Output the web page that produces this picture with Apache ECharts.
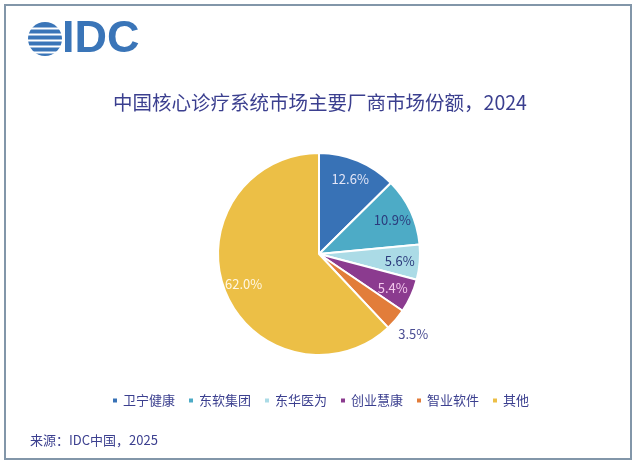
<!DOCTYPE html>
<html>
<head>
<meta charset="utf-8">
<script src="https://cdn.jsdelivr.net/npm/echarts@6/dist/echarts.min.js"></script>
<style>
html, body { margin: 0; padding: 0; background: #fff; }
#main { width: 640px; height: 465px; }
</style>
</head>
<body>
<div id="main"></div>
<script>
// vendor shares, China core diagnosis & treatment systems, 2024
var vendors = ['卫宁健康', '东软集团', '东华医为', '创业慧康', '智业软件', '其他'];
var shares = [12.6, 10.9, 5.6, 5.4, 3.5, 62.0];
// the small slice gets its label outside the pie
var outsideLabel = '智业软件';

var sliceColors = ['#3872b6', '#4dabc6', '#abdbe6', '#8b3b8f', '#e27d3a', '#ecbf46'];
var labelColors = ['#e3e6f7', '#2b3a7c', '#2b3a7c', '#f3c8ec', '#4a4d93', '#fff7e4'];
var navy = '#3b3f8f';

var pieData = [], innerLabels = [], outerLabels = [];
for (var i = 0; i < vendors.length; i++) {
  var isOut = vendors[i] == outsideLabel;
  pieData.push({ name: vendors[i], value: shares[i], itemStyle: { color: sliceColors[i] } });
  innerLabels.push({ name: vendors[i], value: shares[i],
    label: { show: !isOut, color: labelColors[i] } });
  outerLabels.push({ name: vendors[i], value: shares[i],
    label: { show: isOut, color: labelColors[i] } });
}

var pct = function (p) { return p.value.toFixed(1) + '%'; };
var labelFont = { fontSize: 13, fontFamily: '"Noto Sans CJK SC", sans-serif' };

var myChart = echarts.init(document.getElementById('main'));

var option = {
  backgroundColor: '#fff',
  animation: false,
  graphic: [
    { type: 'rect', shape: { x: 5, y: 5, width: 626, height: 454 },
      style: { fill: '#fff', stroke: '#8296a9', lineWidth: 2 }, z: -10 },
    { type: 'circle', shape: { cx: 45, cy: 39, r: 17 }, style: { fill: '#3a75b8' } },
    { type: 'rect', shape: { x: 26, y: 27.5, width: 38, height: 2 }, style: { fill: '#fff' } },
    { type: 'rect', shape: { x: 26, y: 33.5, width: 38, height: 2 }, style: { fill: '#fff' } },
    { type: 'rect', shape: { x: 26, y: 39.5, width: 38, height: 2 }, style: { fill: '#fff' } },
    { type: 'rect', shape: { x: 26, y: 45.5, width: 38, height: 2 }, style: { fill: '#fff' } },
    { type: 'rect', shape: { x: 26, y: 51.5, width: 38, height: 2 }, style: { fill: '#fff' } },
    { type: 'text', left: 62, top: 17,
      style: { text: 'IDC', fill: '#3a75b8', font: 'bold 45px "Liberation Sans", Arial, sans-serif' } },
    { type: 'text', left: 30, top: 434,
      style: { text: '来源：IDC中国，2025', fill: navy, font: '13px "Noto Sans CJK SC", sans-serif' } }
  ],
  title: {
    text: '中国核心诊疗系统市场主要厂商市场份额，2024',
    left: 'center',
    top: 88,
    textStyle: {
      color: navy,
      fontSize: 19.5,
      fontWeight: 'normal',
      fontFamily: '"Noto Sans CJK SC", sans-serif'
    }
  },
  legend: {
    data: vendors,
    bottom: 53,
    left: 'center',
    icon: 'rect',
    itemWidth: 6,
    itemHeight: 6,
    itemGap: 12,
    textStyle: { color: navy, fontSize: 13, fontFamily: '"Noto Sans CJK SC", sans-serif' }
  },
  series: [
    {
      name: 'share',
      type: 'pie',
      center: [319, 254],
      radius: 101,
      startAngle: 90,
      clockwise: true,
      label: { show: false },
      labelLine: { show: false },
      itemStyle: { borderColor: '#fff', borderWidth: 2 },
      emphasis: { disabled: true },
      data: pieData
    },
    {
      name: 'innerLabels',
      type: 'pie',
      center: [319, 254],
      radius: [55, 101],
      startAngle: 90,
      silent: true,
      legendHoverLink: false,
      itemStyle: { color: 'rgba(0,0,0,0)', borderWidth: 0 },
      emphasis: { disabled: true },
      label: Object.assign({ position: 'inside', formatter: pct }, labelFont),
      data: innerLabels
    },
    {
      name: 'outerLabels',
      type: 'pie',
      center: [319, 254],
      radius: [101, 141],
      startAngle: 90,
      silent: true,
      legendHoverLink: false,
      itemStyle: { color: 'rgba(0,0,0,0)', borderWidth: 0 },
      emphasis: { disabled: true },
      label: Object.assign({ position: 'inside', formatter: pct }, labelFont),
      data: outerLabels
    }
  ]
};

myChart.setOption(option);
</script>
</body>
</html>
